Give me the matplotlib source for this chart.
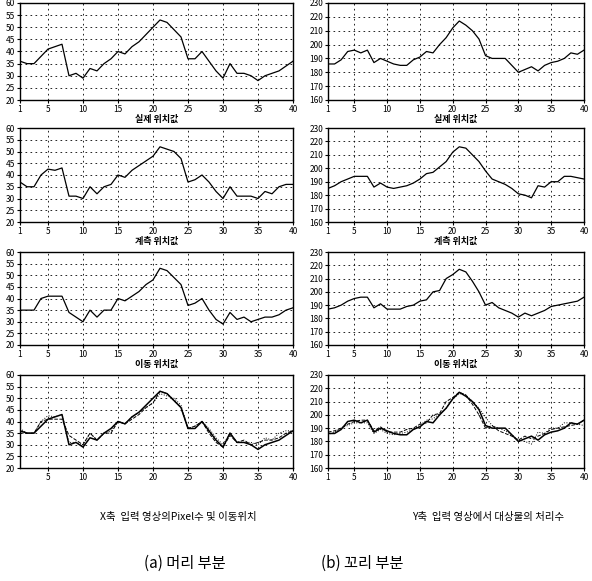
import matplotlib
matplotlib.use("Agg")
from matplotlib import pyplot as plt
import numpy as np

plt.rcParams['font.family'] = ['Noto Sans CJK KR', 'DejaVu Sans']

frames = np.arange(1, 41)

# head part, x position
x_real = [36, 35, 35, 38, 41, 42, 43, 30, 31, 29, 33, 32, 35, 37, 40, 39, 42, 44, 47, 50,
          53, 52, 49, 46, 37, 37, 40, 36, 32, 29, 35, 31, 31, 30, 28, 30, 31, 32, 34, 36]
x_meas = [37, 35, 35, 40, 42.5, 42, 43, 31, 31, 30, 35, 32, 35, 36, 40, 39, 42, 44, 46, 48,
          52, 51, 50, 47, 37, 38, 40, 37, 33, 30, 35, 31, 31, 31, 30, 33, 32, 35, 36, 36]
x_move = [35, 35, 35, 40, 41, 41, 41, 34, 32, 30, 35, 32, 35, 35, 40, 39, 41, 43, 46, 48,
          53, 52, 49, 46, 37, 38, 40, 35, 31, 29, 34, 31, 32, 30, 31, 32, 32, 33, 35, 36]

# tail part, y position
y_real = [186, 186, 189, 195, 196, 194, 196, 187, 190, 188, 186, 185, 185, 189, 191, 195, 194, 200, 205, 212,
          217, 214, 210, 204, 192, 190, 190, 190, 185, 180, 182, 184, 181, 185, 187, 188, 190, 194, 193, 196]
y_meas = [185, 187, 190, 192, 194, 194, 194, 186, 189, 186, 185, 186, 187, 189, 192, 196, 197, 201, 205, 212,
          216, 215, 210, 205, 198, 192, 190, 188, 185, 181, 180, 178, 187, 186, 190, 190, 194, 194, 193, 192]
y_move = [187, 188, 190, 193, 195, 196, 196, 188, 191, 187, 187, 187, 189, 190, 193, 194, 200, 201, 210, 213,
          217, 215, 208, 200, 190, 192, 188, 186, 184, 181, 184, 182, 184, 186, 189, 190, 191, 192, 193, 196]

row_labels = ['실제 위치값', '계측 위치값', '이동 위치값', None]
x_ticks = [1, 5, 10, 15, 20, 25, 30, 35, 40]

W, H = 592, 581
fig = plt.figure(figsize=(W / 100, H / 100), dpi=100)

rows_px = [(3, 100), (128, 222), (252, 345), (375, 468)]
cols_px = [(20, 293), (328, 584)]


def make_ax(col, row):
    x0, x1 = cols_px[col]
    t, b = rows_px[row]
    return fig.add_axes([x0 / W, 1 - b / H, (x1 - x0) / W, (b - t) / H])


grid_style = dict(color='black', linestyle=(0, (2, 4)), linewidth=0.6)

for col, (series, ylim, ystep) in enumerate([((x_real, x_meas, x_move), (20, 60), 5),
                                              ((y_real, y_meas, y_move), (160, 230), 10)]):
    for row in range(4):
        ax = make_ax(col, row)
        if row < 3:
            ax.plot(frames, series[row], color='black', linewidth=0.9)
        else:
            ax.plot(frames, series[0], color='black', linewidth=1.1)
            ax.plot(frames, series[1], color='black', linewidth=0.7, linestyle=':')
            ax.plot(frames, series[2], color='black', linewidth=0.7, linestyle='--')
        ax.set_xlim(1, 40)
        ax.set_ylim(*ylim)
        ax.set_yticks(np.arange(ylim[0], ylim[1] + 1, ystep))
        if row == 3 and col == 0:
            ax.set_xticks(x_ticks[1:])
        else:
            ax.set_xticks(x_ticks)
        ax.grid(True, **grid_style)
        ax.tick_params(labelsize=6, length=2, width=0.8, pad=1.5)
        for s in ax.spines.values():
            s.set_linewidth(1.0)
        if row_labels[row]:
            ax.set_xlabel(row_labels[row], fontsize=6.5, fontweight='bold', labelpad=1)

fig.text(178 / W, 1 - 517 / H, 'X축  입력 영상의Pixel수 및 이동위치', ha='center', va='center', fontsize=7.5)
fig.text(488 / W, 1 - 517 / H, 'Y축  입력 영상에서 대상물의 처리수', ha='center', va='center', fontsize=7.5)
fig.text(185 / W, 1 - 563 / H, '(a) 머리 부분', ha='center', va='center', fontsize=11)
fig.text(362 / W, 1 - 563 / H, '(b) 꼬리 부분', ha='center', va='center', fontsize=11)

fig.savefig('out.png', dpi=100)
